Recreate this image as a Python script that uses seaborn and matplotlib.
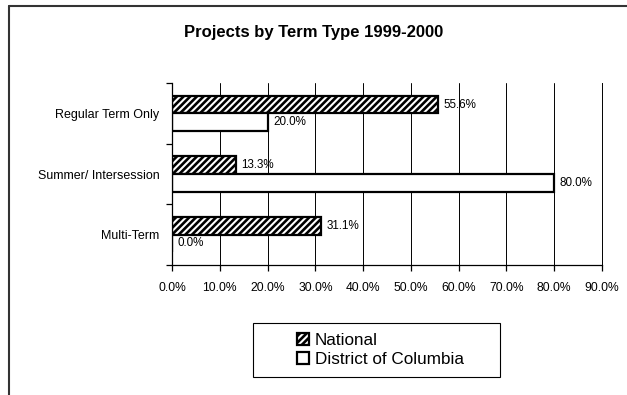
import matplotlib
matplotlib.use("Agg")
import matplotlib.pyplot as plt
from matplotlib.patches import Rectangle, Patch
from matplotlib.lines import Line2D
from matplotlib.ticker import PercentFormatter, FixedLocator
import seaborn as sns
import pandas as pd

# Share of projects by term type, 1999-2000 (percent)
categories = ["Regular Term Only", "Summer/ Intersession", "Multi-Term"]
groups = ["National", "District of Columbia"]
national = [55.6, 13.3, 31.1]
dc = [20.0, 80.0, 0.0]
x_ticks = [0, 10, 20, 30, 40, 50, 60, 70, 80, 90]

df = pd.DataFrame({
    "Term": categories * 2,
    "Group": [groups[0]] * 3 + [groups[1]] * 3,
    "Percent": national + dc,
})

sns.set_style("white")
plt.rcParams["font.family"] = ["Liberation Sans", "DejaVu Sans"]
plt.rcParams["hatch.linewidth"] = 1.9
for key in ["text.color", "axes.labelcolor", "xtick.color", "ytick.color"]:
    plt.rcParams[key] = "black"

W, H = 627, 395
fig = plt.figure(figsize=(W / 100, H / 100), dpi=100)
ax = fig.add_axes([172 / W, 1 - 265 / H, (602 - 172) / W, (265 - 83) / H])

sns.barplot(
    data=df, y="Term", x="Percent", hue="Group", order=categories,
    hue_order=groups, orient="h", width=0.58, palette=["white", "white"],
    edgecolor="black", linewidth=1.6, legend=False, ax=ax, saturation=1,
)

for patch in ax.containers[0]:
    patch.set_hatch("/////")

for cont, vals in zip(ax.containers, [national, dc]):
    ax.bar_label(cont, labels=[f"{v:.1f}%" for v in vals], padding=4,
                 fontsize=8.4, color="black")

ax.set_xlim(0, 90)
ax.set_ylim(2.5, -0.5)
ax.xaxis.set_major_locator(FixedLocator(x_ticks))
ax.xaxis.set_major_formatter(PercentFormatter(xmax=100, decimals=1))
ax.set_xlabel("")
ax.set_ylabel("")

# category boundaries get the tick marks; names sit between them
ax.yaxis.set_minor_locator(FixedLocator([-0.5, 0.5, 1.5, 2.5]))
ax.tick_params(axis="y", which="major", length=0, pad=9, labelsize=9)
ax.tick_params(axis="y", which="minor", length=4, width=0.9, color="black",
               direction="out", left=True)
ax.tick_params(axis="x", which="major", length=4, width=0.9, color="black",
               direction="out", bottom=True, pad=8, labelsize=8.7)

ax.grid(axis="x", color="black", linewidth=0.7)
ax.grid(axis="y", visible=False)
ax.set_axisbelow(True)
for side in ["left", "bottom"]:
    ax.spines[side].set_color("black")
    ax.spines[side].set_linewidth(0.9)
ax.spines["right"].set_visible(True)
ax.spines["right"].set_color("black")
ax.spines["right"].set_linewidth(0.7)
ax.spines["top"].set_visible(False)

fig.text(0.5, 1 - 33 / H, "Projects by Term Type 1999-2000", ha="center",
         va="center", fontsize=12, fontweight="bold")

# legend with a separate frame box
handles = [
    Patch(facecolor="white", edgecolor="black", hatch="/////", linewidth=1.6),
    Patch(facecolor="white", edgecolor="black", linewidth=1.6),
]
fig.legend(handles, groups, loc="center left",
           bbox_to_anchor=(297 / W, 1 - 350 / H), frameon=False,
           fontsize=12.3, handlelength=0.7, handleheight=0.7,
           handletextpad=0.35, labelspacing=0.25, borderpad=0, borderaxespad=0)
fig.add_artist(Rectangle((253 / W, 1 - 377 / H), (500 - 253) / W, 54 / H,
                         transform=fig.transFigure, fill=False,
                         edgecolor="black", linewidth=0.8))

# outer chart border (top and left edges)
fig.add_artist(Line2D([8.5 / W, 1], [1 - 5.5 / H, 1 - 5.5 / H],
                      transform=fig.transFigure, color="#333333", linewidth=1.5))
fig.add_artist(Line2D([8.5 / W, 8.5 / W], [0, 1 - 5.5 / H],
                      transform=fig.transFigure, color="#333333", linewidth=1.5))

fig.savefig("out.png", dpi=100)
